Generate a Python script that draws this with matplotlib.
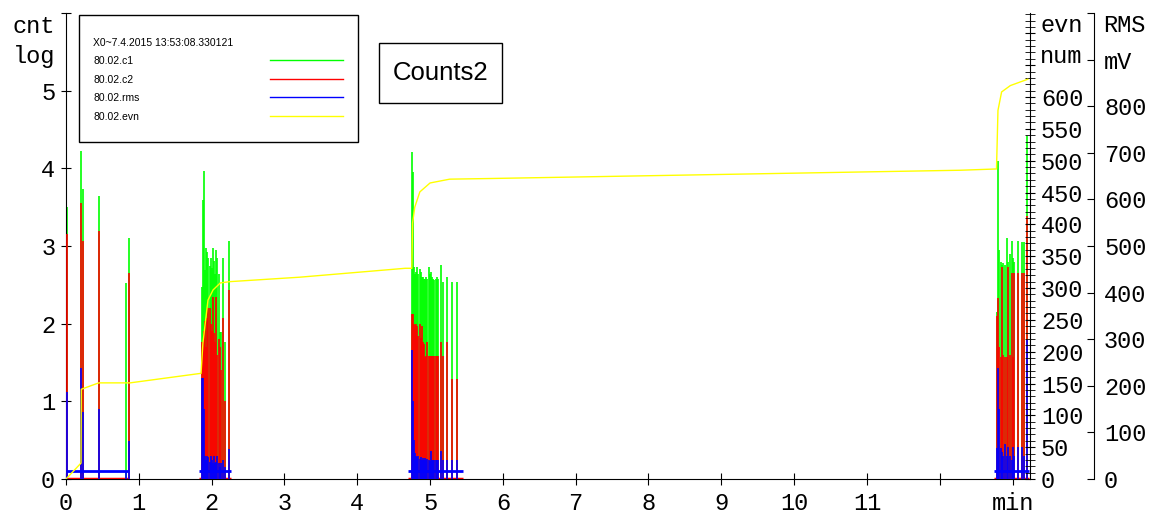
import numpy as np
import matplotlib.pyplot as plt
from matplotlib.patches import Rectangle
from matplotlib.lines import Line2D

# counter bursts, time in minutes; c1/c2 in log counts, rms on the same log scale
t_a = [0.02, 0.21, 0.24, 0.45, 0.82, 0.86]
c1_a = [3.5, 4.22, 3.74, 3.65, 2.52, 3.1]
c2_a = [3.16, 3.56, 3.07, 3.19, 0.0, 2.65]
rms_a = [1.12, 1.43, 0.86, 0.9, 0.1, 0.49]

t_b = [1.864, 1.877, 1.891, 1.909, 1.923, 1.941, 1.955, 1.973, 1.987, 2.001, 2.019,
       2.033, 2.047, 2.065, 2.079, 2.097, 2.115, 2.129, 2.161, 2.184, 2.243]
c1_b = [2.47, 3.59, 3.97, 2.69, 2.97, 2.92, 2.85, 2.74, 2.85, 2.72, 2.97,
        2.81, 2.64, 2.95, 2.85, 2.64, 1.89, 1.89, 2.85, 1.76, 3.06]
c2_b = [1.76, 1.76, 1.9, 2.04, 1.7, 2.07, 2.2, 2.2, 2.0, 1.9, 2.34,
        1.88, 1.76, 2.34, 1.6, 1.8, 1.7, 1.4, 2.07, 1.0, 2.43]
rms_b = [1.3, 1.3, 0.9, 0.3, 0.25, 0.3, 0.28, 0.22, 0.3, 0.25, 0.2,
         0.3, 0.2, 0.22, 0.3, 0.2, 0.15, 0.2, 0.25, 0.15, 0.38]

t_c = [4.749, 4.762, 4.780, 4.794, 4.808, 4.826, 4.839, 4.859, 4.872, 4.886,
       4.904, 4.918, 4.931, 4.949, 4.963, 4.982, 4.996, 5.014, 5.027, 5.045,
       5.059, 5.078, 5.092, 5.114, 5.147, 5.183, 5.238, 5.298, 5.367]
c1_c = [4.21, 3.95, 2.73, 2.64, 2.66, 2.73, 2.64, 2.71, 2.66, 2.60,
        2.60, 2.58, 2.58, 2.60, 2.58, 2.73, 2.64, 2.66, 2.60, 2.58,
        2.56, 2.58, 2.60, 2.58, 2.75, 2.54, 2.60, 2.54, 2.54]
c2_c = [2.13, 2.13, 2.0, 1.98, 2.0, 1.97, 1.84, 2.0, 1.81, 1.97,
        1.77, 1.74, 1.57, 1.59, 1.76, 1.59, 1.59, 1.59, 1.59, 1.59,
        1.59, 1.59, 1.59, 1.59, 1.76, 1.59, 1.76, 1.29, 1.29]
rms_c = [1.66, 1.0, 0.5, 0.33, 0.3, 0.28, 0.3, 0.26, 0.28, 0.25,
         0.27, 0.24, 0.27, 0.25, 0.26, 0.25, 0.23, 0.36, 0.25, 0.24,
         0.25, 0.24, 0.25, 0.24, 0.36, 0.25, 0.24, 0.24, 0.25]

t_d = [12.784, 12.806, 12.820, 12.839, 12.853, 12.875, 12.898, 12.922, 12.944,
       12.967, 12.990, 13.012, 13.026, 13.073, 13.128, 13.159, 13.196]
c1_d = [2.15, 4.1, 2.95, 2.8, 2.75, 2.78, 2.75, 3.1, 2.8,
        2.9, 3.07, 2.85, 2.8, 3.07, 3.05, 3.05, 4.42]
c2_d = [2.1, 2.33, 1.7, 1.57, 2.73, 1.6, 1.57, 1.57, 2.73,
        1.6, 2.65, 1.57, 2.65, 2.65, 2.65, 2.65, 3.39]
rms_d = [0.4, 1.43, 0.9, 0.4, 0.35, 0.3, 0.45, 0.3, 0.41,
         0.3, 0.25, 0.41, 0.3, 0.41, 0.41, 0.3, 1.79]

# idle level of each burst window
burst_start = [0.0, 1.83, 4.70, 12.75]
burst_end = [0.87, 2.27, 5.45, 13.23]
rms_floor = 0.1

# cumulative event number
evn_t = [0, 0.206, 0.21, 0.45, 0.88, 1.855, 1.88, 1.95, 2.02, 2.12, 2.25, 3.21,
         4.66, 4.75, 4.76, 4.79, 4.86, 5.0, 5.27, 5.82, 12.28, 12.78, 12.80,
         12.85, 12.97, 13.21]
evn_n = [0, 25, 141, 151, 151, 166, 213, 281, 297, 308, 310, 317,
         331, 331, 402, 427, 451, 465, 471, 472, 485, 487, 579,
         608, 618, 628]

legend_title = "X0~7.4.2015 13:53:08.330121"
series_names = ["80.02.c1", "80.02.c2", "80.02.rms", "80.02.evn"]
series_colors = ["#00ff00", "#ff0000", "#0000ff", "#ffff00"]

t = np.array(t_a + t_b + t_c + t_d)
c1 = np.array(c1_a + c1_b + c1_c + c1_d)
c2 = np.array(c2_a + c2_b + c2_c + c2_d)
rms = np.array(rms_a + rms_b + rms_c + rms_d)

W, H = 1151, 519
mono = "Liberation Mono"
fs = 17

fig = plt.figure(figsize=(W / 100, H / 100), dpi=100)
ax = fig.add_axes([66 / W, 40 / H, 964 / W, 466 / H])

ax.vlines(t, 0, c1, color=series_colors[0], lw=1.2, zorder=2)
ax.vlines(t, 0, c2, color=series_colors[1], lw=1.2, zorder=3)
ax.hlines([0] * 4, burst_start, burst_end, color=series_colors[1], lw=2.5, zorder=3)
ax.vlines(t, 0, rms, color=series_colors[2], lw=1.2, zorder=4)
ax.hlines([rms_floor] * 4, burst_start, burst_end, color=series_colors[2], lw=2, zorder=4)

ax.set_xlim(0, 13.24)
ax.set_ylim(0, 6)
for s in ["top", "right"]:
    ax.spines[s].set_visible(False)
ax.set_xticks(range(14))
ax.set_xticklabels([str(i) for i in range(12)] + ["", "min"])
ax.set_yticks(range(7))
ax.set_yticklabels([str(i) for i in range(6)] + [""])
ax.tick_params(axis="x", direction="inout", length=8.6, pad=5, labelsize=fs)
ax.tick_params(axis="y", direction="inout", length=6.5, pad=4.5, labelsize=fs)
for lab in ax.get_xticklabels() + ax.get_yticklabels():
    lab.set_fontfamily(mono)

# event number axis on the right edge
ax2 = ax.twinx()
ax2.plot(evn_t, evn_n, color=series_colors[3], lw=1, zorder=5)
ax2.set_ylim(0, 732)
for s in ["top", "left", "bottom"]:
    ax2.spines[s].set_visible(False)
ax2.set_yticks(range(0, 701, 50))
ax2.set_yticklabels([str(v) if v <= 600 else "" for v in range(0, 701, 50)])
ax2.set_yticks(range(0, 731, 10), minor=True)
ax2.tick_params(axis="y", which="both", direction="inout", length=7.2, pad=4.3,
                labelsize=fs)
for lab in ax2.get_yticklabels():
    lab.set_fontfamily(mono)

# RMS axis, offset further right
ax3 = ax.twinx()
ax3.spines["right"].set_position(("axes", 1.0667))
for s in ["top", "left", "bottom"]:
    ax3.spines[s].set_visible(False)
ax3.set_ylim(0, 1000)
ax3.set_yticks(range(0, 1001, 100))
ax3.set_yticklabels([str(v) for v in range(0, 801, 100)] + ["mV", ""])
ax3.tick_params(axis="y", direction="in", length=5, pad=7, labelsize=fs)
for lab in ax3.get_yticklabels():
    lab.set_fontfamily(mono)

# axis headers
fig.text(55 / W, 1 - 33 / H, "cnt", ha="right", va="baseline", fontsize=fs, family=mono)
fig.text(55 / W, 1 - 63 / H, "log", ha="right", va="baseline", fontsize=fs, family=mono)
fig.text(1040 / W, 1 - 32 / H, "evn", ha="left", va="baseline", fontsize=fs, family=mono)
fig.text(1040 / W, 1 - 63 / H, "num", ha="left", va="baseline", fontsize=fs, family=mono)
fig.text(1103 / W, 1 - 32 / H, "RMS", ha="left", va="baseline", fontsize=fs, family=mono)

# legend box
fig.patches.append(Rectangle((79 / W, 1 - 142 / H), 279 / W, 127 / H, transform=fig.transFigure,
                             fill=True, facecolor="white", edgecolor="black", lw=1, zorder=10))
sans = "Liberation Sans"
fig.text(93 / W, 1 - 43 / H, legend_title, ha="left", va="center", fontsize=7.5,
         family=sans, zorder=11)
for i, (name, col) in enumerate(zip(series_names, series_colors)):
    yy = 1 - (61 + i * 18.7) / H
    fig.text(93 / W, yy, name, ha="left", va="center", fontsize=7.5, family=sans, zorder=11)
    fig.lines.append(Line2D([270 / W, 343 / W], [yy + 1 / H, yy + 1 / H], color=col, lw=1,
                            transform=fig.transFigure, zorder=11))

# title box
fig.patches.append(Rectangle((379 / W, 1 - 103 / H), 123 / W, 60 / H, transform=fig.transFigure,
                             fill=True, facecolor="white", edgecolor="black", lw=1, zorder=10))
fig.text(440.5 / W, 1 - 73 / H, "Counts2", ha="center", va="center", fontsize=18.5,
         family=sans, zorder=11)

fig.savefig("out.png", dpi=100)
